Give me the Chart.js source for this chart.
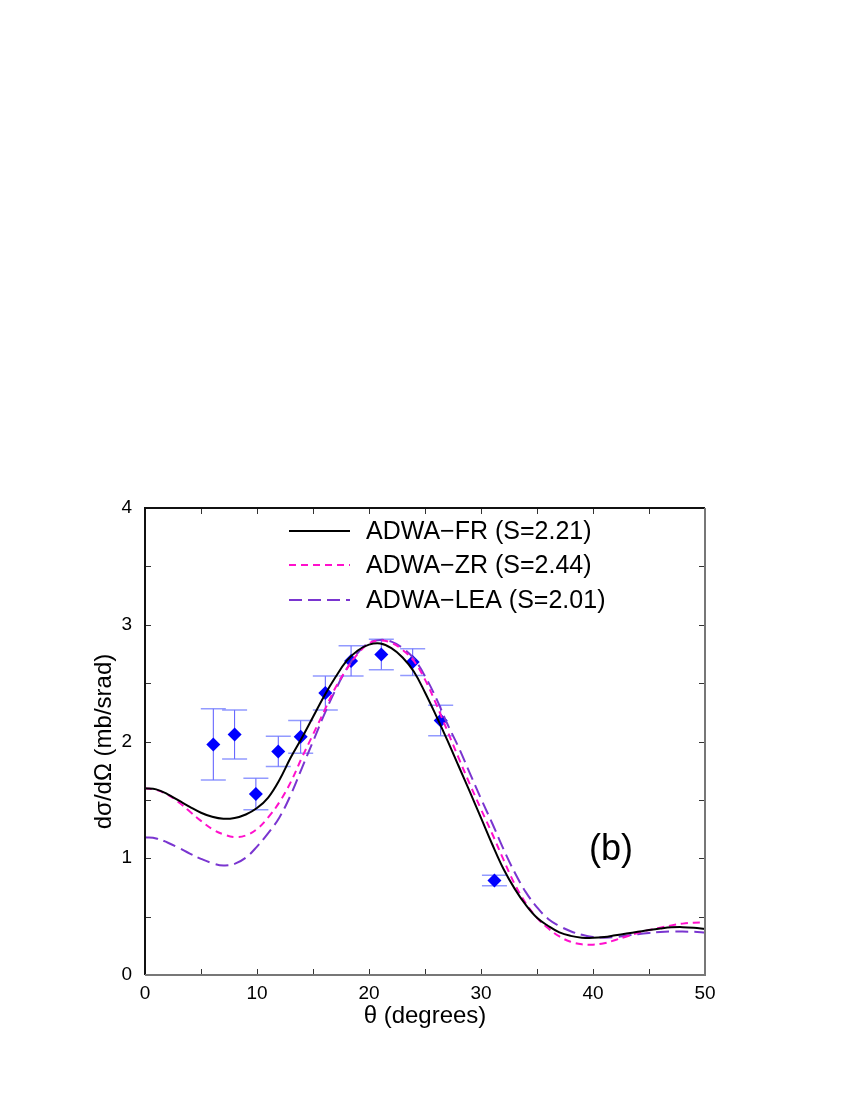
<!DOCTYPE html>
<html><head><meta charset="utf-8">
<script src="https://cdn.jsdelivr.net/npm/chart.js@4.4.1/dist/chart.umd.min.js"></script>
<style>html,body{margin:0;padding:0;background:#fff}</style>
</head><body>
<canvas id="c" width="850" height="1100"></canvas>
<script>
// ---- data ----
const angles = [0,1,2,3,4,5,6,7,8,9,10,11,12,13,14,15,16,17,18,19,20,21,22,23,24,25,26,27,28,29,30,31,32,33,34,35,36,37,38,39,40,41,42,43,44,45,46,47,48,49,50];
const frValues = [1.60,1.59,1.55,1.495,1.44,1.39,1.355,1.338,1.345,1.375,1.43,1.52,1.67,1.86,2.03,2.21,2.39,2.55,2.69,2.78,2.83,2.84,2.80,2.72,2.60,2.42,2.22,2.01,1.79,1.57,1.345,1.12,0.91,0.74,0.60,0.49,0.42,0.365,0.335,0.32,0.318,0.325,0.34,0.355,0.37,0.385,0.398,0.408,0.41,0.405,0.395];
const zrValues = [1.60,1.585,1.545,1.48,1.40,1.32,1.25,1.205,1.182,1.195,1.25,1.35,1.48,1.65,1.86,2.06,2.26,2.46,2.62,2.75,2.84,2.866,2.845,2.785,2.69,2.53,2.32,2.09,1.86,1.635,1.42,1.21,0.99,0.78,0.615,0.49,0.40,0.33,0.285,0.263,0.26,0.272,0.30,0.33,0.36,0.385,0.405,0.425,0.44,0.448,0.45];
const leaValues = [1.18,1.17,1.135,1.09,1.04,0.995,0.958,0.938,0.952,1.005,1.10,1.215,1.35,1.54,1.77,2.00,2.23,2.44,2.62,2.76,2.845,2.87,2.855,2.80,2.71,2.56,2.37,2.15,1.95,1.73,1.51,1.30,1.08,0.88,0.71,0.58,0.48,0.42,0.375,0.345,0.325,0.32,0.325,0.338,0.35,0.36,0.368,0.372,0.372,0.37,0.365];
const expAngles = [6.1,8.0,9.9,11.9,13.9,16.1,18.4,21.1,23.9,26.4,31.2];
const expValues = [1.975,2.06,1.55,1.915,2.04,2.415,2.69,2.745,2.68,2.18,0.81];
const expErrors = [0.305,0.21,0.135,0.13,0.14,0.145,0.13,0.13,0.115,0.13,0.045];
const seriesLabels = ['ADWA\u2212FR (S=2.21)','ADWA\u2212ZR (S=2.44)','ADWA\u2212LEA (S=2.01)'];
const xTickMarks = [0,5,10,15,20,25,30,35,40,45,50];
const yTickMarks = [0,0.5,1,1.5,2,2.5,3,3.5,4];
const panelLabel = '(b)';
const xTitle = '\u03b8 (degrees)';
const yTitle = 'd\u03c3/d\u03a9 (mb/srad)';

const FONT = "'Liberation Sans', Arial, Helvetica, sans-serif";
const pts = (xs, ys) => xs.map((x, i) => ({x, y: ys[i]}));

const styles = [
  {color:'#000000', dash:[], width:2},
  {color:'#ff10cc', dash:[7,5], width:2},
  {color:'#7a35d0', dash:[13,6], width:2}
];

const errorBars = {
  id:'errorBars',
  beforeDatasetsDraw(chart){
    const {ctx, scales:{x,y}} = chart;
    ctx.save();
    expAngles.forEach((a,i)=>{
      const px = x.getPixelForValue(a);
      const pt = y.getPixelForValue(expValues[i]+expErrors[i]);
      const pb = y.getPixelForValue(expValues[i]-expErrors[i]);
      ctx.strokeStyle = 'rgba(70,70,255,0.9)';
      ctx.lineWidth = 1;
      ctx.beginPath(); ctx.moveTo(px,pt); ctx.lineTo(px,pb); ctx.stroke();
      ctx.strokeStyle = 'rgba(110,120,255,0.75)';
      ctx.lineWidth = 1.5;
      ctx.beginPath();
      ctx.moveTo(px-12.5,pt); ctx.lineTo(px+12.5,pt);
      ctx.moveTo(px-12.5,pb); ctx.lineTo(px+12.5,pb);
      ctx.stroke();
    });
    ctx.restore();
  }
};

const frame = {
  id:'frame',
  afterDraw(chart){
    const {ctx, chartArea:{left,right,top,bottom}, scales:{x,y}} = chart;
    ctx.save();
    const tl = 6;
    ctx.strokeStyle = '#333';
    ctx.lineWidth = 1;
    ctx.beginPath();
    xTickMarks.forEach(v=>{
      const px = Math.round(x.getPixelForValue(v))+0.5;
      ctx.moveTo(px,bottom); ctx.lineTo(px,bottom-tl);
      ctx.moveTo(px,top); ctx.lineTo(px,top+tl);
    });
    yTickMarks.forEach(v=>{
      const py = Math.round(y.getPixelForValue(v))+0.5;
      ctx.moveTo(left,py); ctx.lineTo(left+tl,py);
      ctx.moveTo(right,py); ctx.lineTo(right-tl,py);
    });
    ctx.stroke();
    ctx.lineWidth = 2;
    ctx.strokeStyle = '#111';
    ctx.beginPath(); ctx.moveTo(left,bottom); ctx.lineTo(left,top); ctx.lineTo(right,top); ctx.stroke();
    ctx.strokeStyle = '#777';
    ctx.beginPath(); ctx.moveTo(left,bottom); ctx.lineTo(right,bottom); ctx.lineTo(right,top); ctx.stroke();

    // legend
    ctx.font = '25px ' + FONT;
    ctx.textBaseline = 'middle';
    ctx.fillStyle = '#000';
    const lx0 = x.getPixelForValue(0) + 144, lx1 = lx0 + 61, tx = lx0 + 77;
    const rows = [531, 565, 600];
    seriesLabels.forEach((lab,i)=>{
      ctx.strokeStyle = styles[i].color;
      ctx.lineWidth = styles[i].width;
      ctx.setLineDash(styles[i].dash);
      ctx.beginPath(); ctx.moveTo(lx0,rows[i]); ctx.lineTo(lx1,rows[i]); ctx.stroke();
      ctx.setLineDash([]);
      ctx.fillText(lab, tx, rows[i]+1);
    });
    // panel label
    ctx.font = '36px ' + FONT;
    ctx.textAlign = 'center';
    ctx.fillText(panelLabel, x.getPixelForValue(41.6), y.getPixelForValue(1.07));
    ctx.restore();
  }
};

const curveSets = [frValues, zrValues, leaValues].map((vals,i)=>({
  label: seriesLabels[i],
  data: pts(angles, vals),
  showLine: true,
  borderColor: styles[i].color,
  borderWidth: styles[i].width,
  borderDash: styles[i].dash,
  pointRadius: 0,
  tension: 0.4,
  fill: false,
  order: 1
}));

new Chart(document.getElementById('c'), {
  type: 'scatter',
  data: {
    datasets: [
      ...curveSets,
      {
        label: 'data',
        data: pts(expAngles, expValues),
        pointStyle: 'rectRot',
        pointRadius: 7,
        backgroundColor: '#0000ff',
        borderColor: '#0000ff',
        borderWidth: 0,
        showLine: false,
        order: 2
      }
    ]
  },
  options: {
    responsive: false,
    animation: false,
    devicePixelRatio: 1,
    layout: {padding: {left: 0, right: 145, top: 508, bottom: 65}},
    plugins: {legend: {display: false}, tooltip: {enabled: false}},
    scales: {
      x: {
        type: 'linear', min: 0, max: 50,
        ticks: {stepSize: 10, color: '#000', font: {size: 19, family: FONT}, padding: 7, maxRotation: 0},
        grid: {display: false, drawTicks: false},
        border: {display: false},
        title: {display: true, text: xTitle, color: '#000', font: {size: 24, family: FONT}, padding: {top: 0, bottom: 4}},
        afterFit(s){ s.height = 60; }
      },
      y: {
        type: 'linear', min: 0, max: 4,
        ticks: {stepSize: 1, color: '#000', font: {size: 19, family: FONT}, padding: 13},
        grid: {display: false, drawTicks: false},
        border: {display: false},
        title: {display: true, text: yTitle, color: '#000', font: {size: 24, family: FONT}, padding: {top: 90, bottom: 0}},
        afterFit(s){ s.width = 145; }
      }
    }
  },
  plugins: [errorBars, frame]
});
</script>
</body></html>
